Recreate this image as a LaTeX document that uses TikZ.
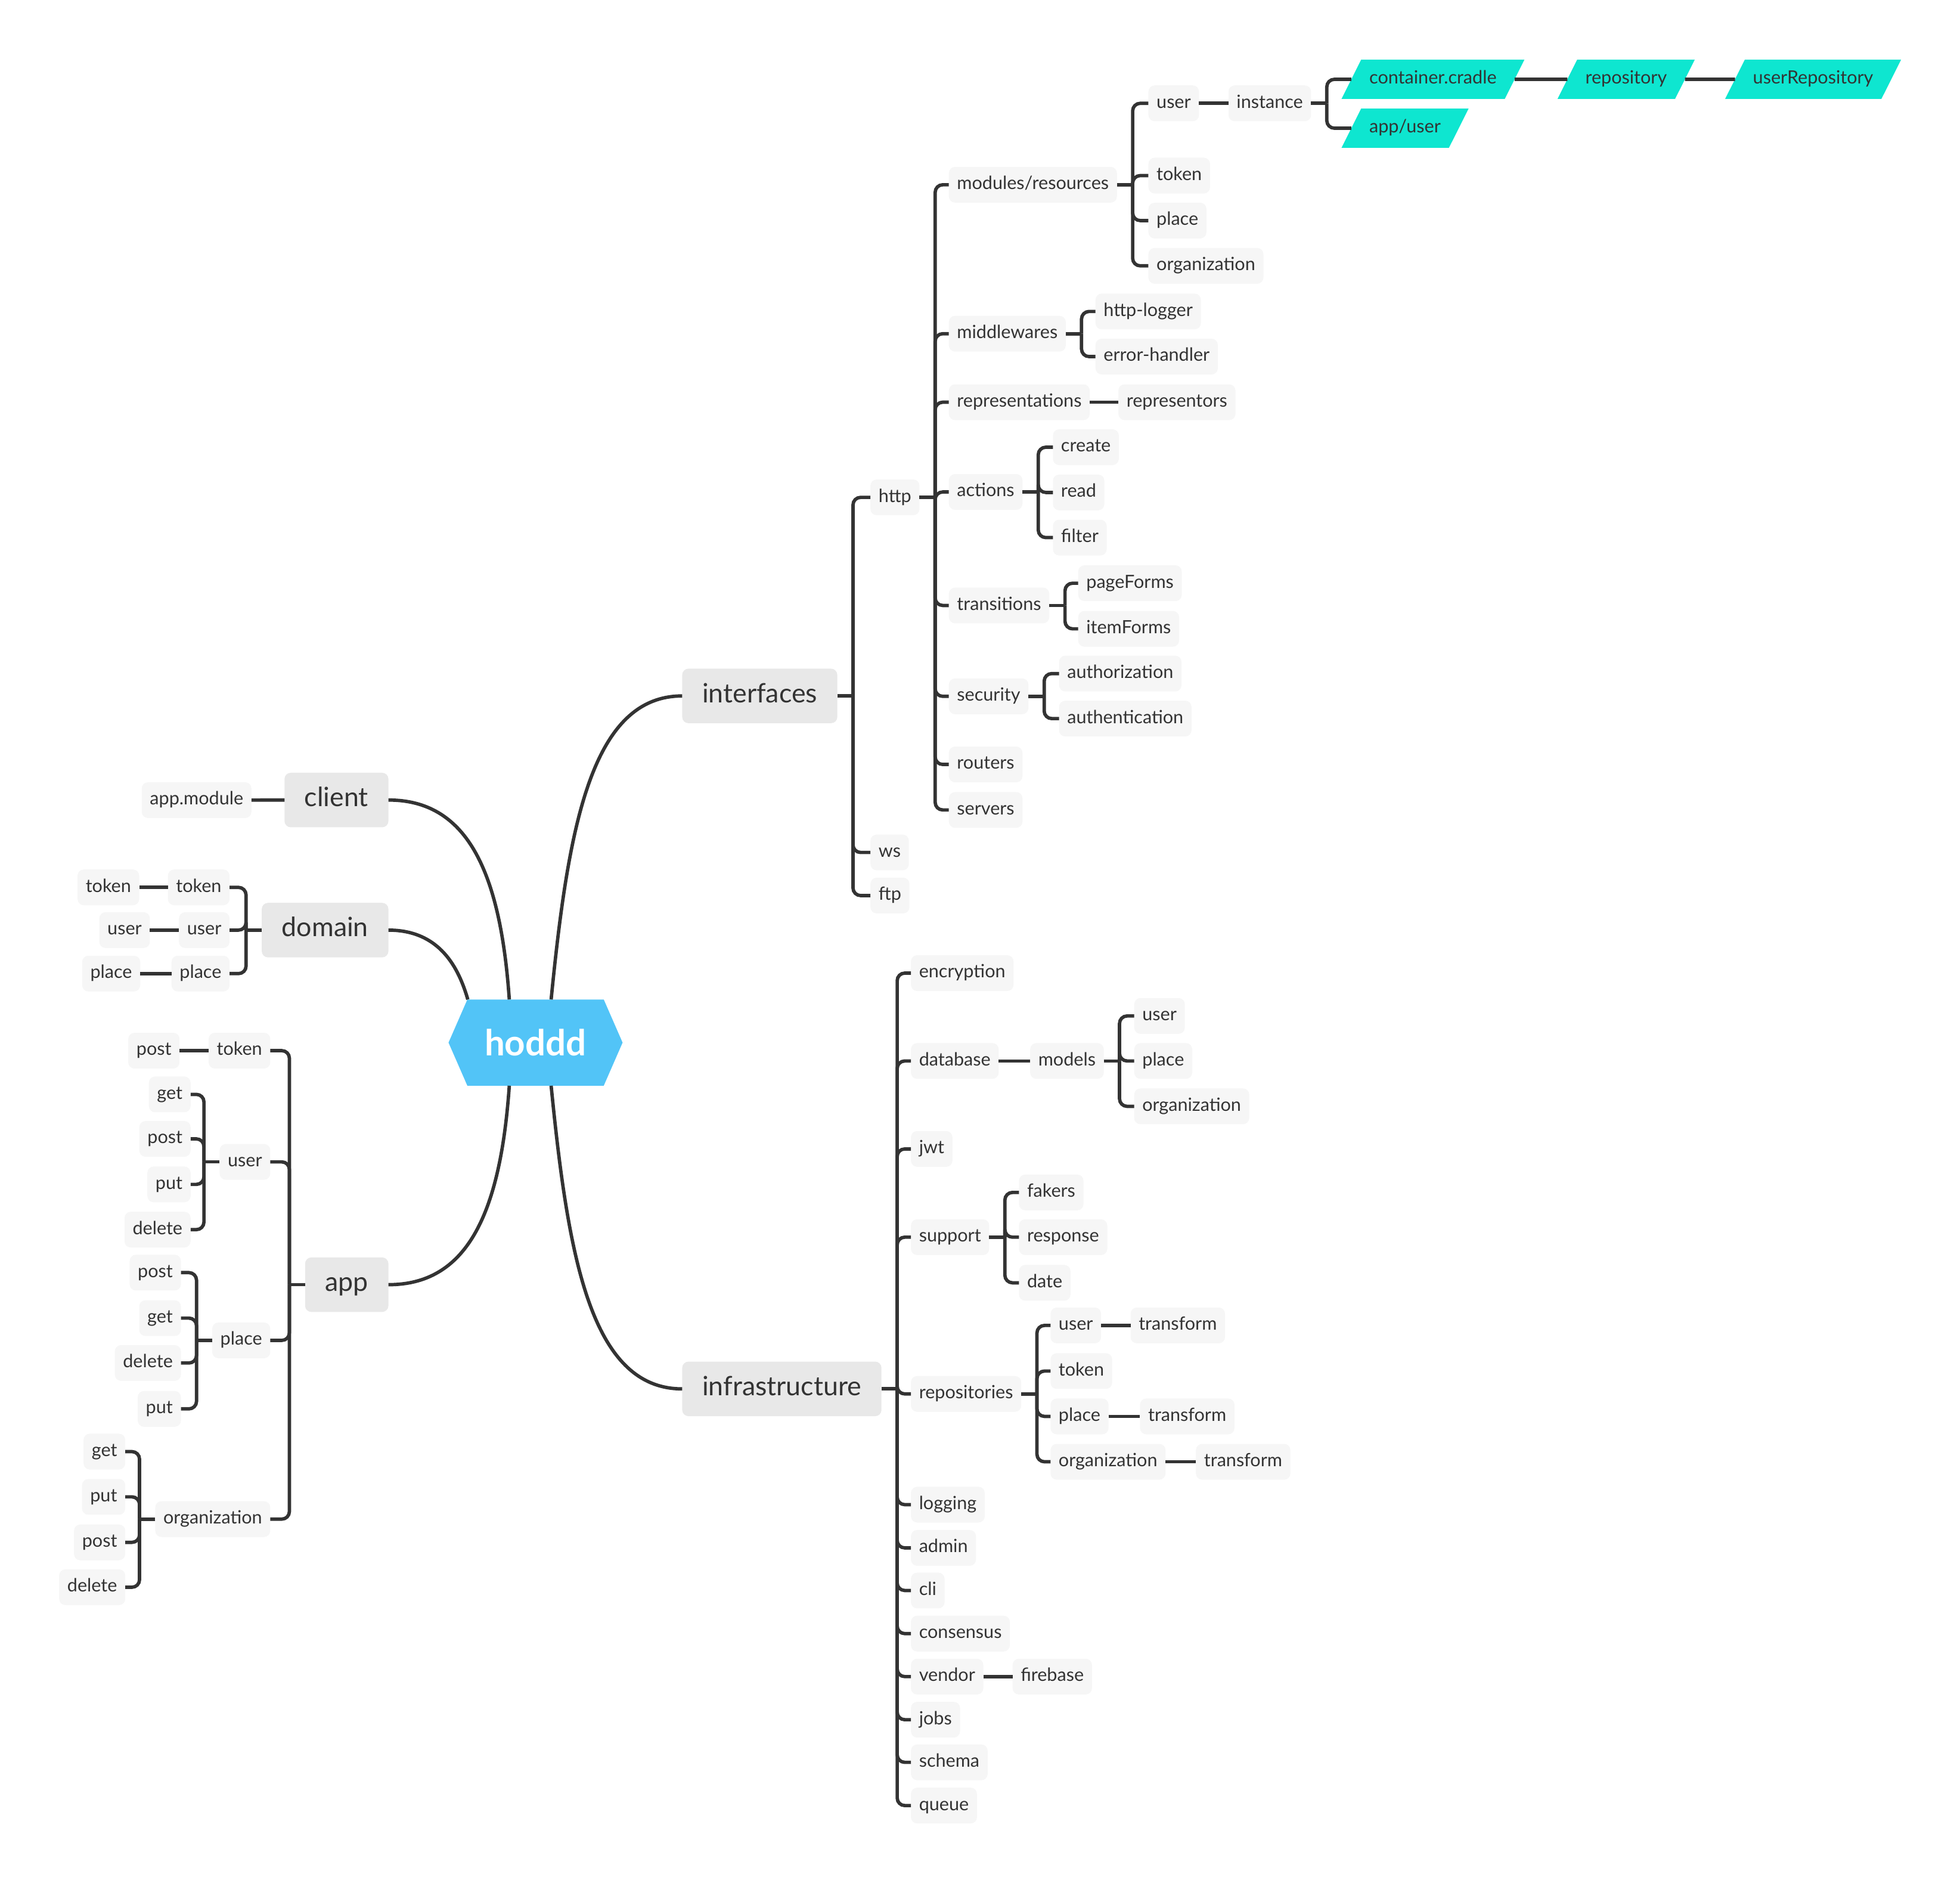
\documentclass[tikz,border=0pt]{standalone}
\usepackage{fontspec}
\setmainfont{Lato}
\usetikzlibrary{shapes.geometric,shapes.symbols}
\definecolor{ink}{HTML}{333333}
\definecolor{hubblue}{HTML}{52C4F7}
\definecolor{tagteal}{HTML}{0EE6D0}
\definecolor{topicgray}{HTML}{E8E8E8}
\definecolor{leafgray}{HTML}{F6F6F6}
\def\rfork(#1)#2{\draw[link] (#1.east) -- ++(12.5,0); \foreach \c in {#2} \draw[link] (#1.east) ++(12.5,0) |- (\c.west);}
\def\lfork(#1)#2{\draw[link] (#1.west) -- ++(-12.5,0); \foreach \c in {#2} \draw[link] (#1.west) ++(-12.5,0) |- (\c.east);}
\tikzset{
	link/.style={draw=ink, line width=2.7pt, rounded corners=6pt},
	hub/.style={signal, signal to=west and east, signal pointer angle=132.8, fill=hubblue, text=white, font=\bfseries\fontsize{28.5}{30}\selectfont, minimum width=138.5pt, minimum height=68.6pt, inner sep=0pt, outer sep=0pt},
	topic/.style={fill=topicgray, text=ink, rounded corners=5pt, font=\fontsize{21.2}{24}\selectfont, inner xsep=16pt, inner ysep=0pt, minimum height=43.4pt, text height=15pt, text depth=4.5pt, outer sep=0pt},
	leaf/.style={fill=leafgray, text=ink, rounded corners=5pt, font=\fontsize{14.5}{17}\selectfont, inner xsep=6.5pt, inner ysep=0pt, minimum height=28.5pt, text height=10.5pt, text depth=3pt, outer sep=0pt},
	tag/.style={trapezium, trapezium left angle=63.4, trapezium right angle=116.6, fill=tagteal, text=ink, font=\fontsize{14.5}{17}\selectfont, inner xsep=6.5pt, inner ysep=8.9pt, text height=10.5pt, text depth=3pt, outer sep=0pt},
}
\begin{document}
\begin{tikzpicture}[x=1pt, y=-1pt]
		%%%%% START %%%%%
		\useasboundingbox (0,0) rectangle (1559.8,1498.1);
		
		\node[hub] (hoddd) at (426.2, 829.5) {hoddd};
		
		\node[topic, anchor=west] (interfaces) at (542.9, 553.7) {interfaces};
		\node[topic, anchor=west] (infra) at (542.9, 1105) {infrastructure};
		\node[topic, anchor=east] (client) at (309.1, 636.5) {client};
		\node[topic, anchor=east] (domain) at (309.1, 740) {domain};
		\node[topic, anchor=east] (app) at (309.1, 1022.1) {app};
		
		% interfaces
		\node[leaf, anchor=west] (http) at (692.7, 395.7) {http};
		\node[leaf, anchor=west] (ws) at (692.7, 678.2) {ws};
		\node[leaf, anchor=west] (ftp) at (692.7, 712.5) {ftp};
		
		\node[leaf, anchor=west] (mods) at (755.1, 147) {modules/resources};
		\node[leaf, anchor=west] (mw) at (755.1, 265.5) {middlewares};
		\node[leaf, anchor=west] (reps) at (755.1, 320) {representations};
		\node[leaf, anchor=west] (acts) at (755.1, 391.4) {actions};
		\node[leaf, anchor=west] (trans) at (755.1, 481.7) {transitions};
		\node[leaf, anchor=west] (sec) at (755.1, 554) {security};
		\node[leaf, anchor=west] (routers) at (755.1, 608.2) {routers};
		\node[leaf, anchor=west] (servers) at (755.1, 644.4) {servers};
		
		\node[leaf, anchor=west] (muser) at (913.9, 82.2) {user};
		\node[leaf, anchor=west] (mtoken) at (913.9, 139.7) {token};
		\node[leaf, anchor=west] (mplace) at (913.9, 175.5) {place};
		\node[leaf, anchor=west] (morg) at (913.9, 211.5) {organization};
		\node[leaf, anchor=west] (inst) at (977.6, 82.2) {instance};
		
		\node[tag, anchor=west] (cradle) at (1075.4, 63.1) {container.cradle};
		\node[tag, anchor=west] (appuserdir) at (1075.4, 102) {app/user};
		\node[tag, anchor=west] (repo) at (1247.3, 63.1) {repository};
		\node[tag, anchor=west] (userrepo) at (1380.7, 63.1) {userRepository};
		
		\node[leaf, anchor=west] (hlog) at (871.8, 247.8) {http-logger};
		\node[leaf, anchor=west] (ehand) at (871.8, 283.7) {error-handler};
		\node[leaf, anchor=west] (repr) at (890, 320) {representors};
		\node[leaf, anchor=west] (create) at (837.9, 355.8) {create};
		\node[leaf, anchor=west] (read) at (837.9, 391.8) {read};
		\node[leaf, anchor=west] (filter) at (837.9, 427.7) {filter};
		\node[leaf, anchor=west] (pforms) at (858, 464) {pageForms};
		\node[leaf, anchor=west] (iforms) at (858, 500.3) {itemForms};
		\node[leaf, anchor=west] (authz) at (842.8, 535.9) {authorization};
		\node[leaf, anchor=west] (authn) at (842.8, 571.7) {authentication};
		
		% infrastructure
		\node[leaf, anchor=west] (encr) at (724.9, 774.2) {encryption};
		\node[leaf, anchor=west] (db) at (724.9, 844.1) {database};
		\node[leaf, anchor=west] (jwt) at (724.9, 914.1) {jwt};
		\node[leaf, anchor=west] (support) at (724.9, 984.3) {support};
		\node[leaf, anchor=west] (repos) at (724.9, 1109) {repositories};
		\node[leaf, anchor=west] (logging) at (724.9, 1197.1) {logging};
		\node[leaf, anchor=west] (admin) at (724.9, 1231.5) {admin};
		\node[leaf, anchor=west] (cli) at (724.9, 1265.4) {cli};
		\node[leaf, anchor=west] (consensus) at (724.9, 1299.7) {consensus};
		\node[leaf, anchor=west] (vendor) at (724.9, 1333.9) {vendor};
		\node[leaf, anchor=west] (jobs) at (724.9, 1368.2) {jobs};
		\node[leaf, anchor=west] (schema) at (724.9, 1402.1) {schema};
		\node[leaf, anchor=west] (queue) at (724.9, 1436.5) {queue};
		
		\node[leaf, anchor=west] (models) at (819.8, 844.1) {models};
		\node[leaf, anchor=west] (mdluser) at (902.6, 808.3) {user};
		\node[leaf, anchor=west] (mdlplace) at (902.6, 844.1) {place};
		\node[leaf, anchor=west] (mdlorg) at (902.6, 880.2) {organization};
		\node[leaf, anchor=west] (fakers) at (810.9, 948.7) {fakers};
		\node[leaf, anchor=west] (resp) at (810.9, 984.3) {response};
		\node[leaf, anchor=west] (date) at (810.9, 1020.6) {date};
		\node[leaf, anchor=west] (ruser) at (836, 1054.5) {user};
		\node[leaf, anchor=west] (rtoken) at (836, 1090.8) {token};
		\node[leaf, anchor=west] (rplace) at (836, 1126.9) {place};
		\node[leaf, anchor=west] (rorg) at (836, 1163) {organization};
		\node[leaf, anchor=west] (tuser) at (899.7, 1054.5) {transform};
		\node[leaf, anchor=west] (tplace) at (907.2, 1126.9) {transform};
		\node[leaf, anchor=west] (torg) at (951.7, 1163) {transform};
		\node[leaf, anchor=west] (firebase) at (805.8, 1333.9) {firebase};
		
		% client, domain
		\node[leaf, anchor=east] (appmod) at (200.1, 636.6) {app.module};
		\node[leaf, anchor=east] (domtoken) at (182.7, 706) {token};
		\node[leaf, anchor=east] (domuser) at (182.7, 740) {user};
		\node[leaf, anchor=east] (domplace) at (182.7, 774.6) {place};
		\node[leaf, anchor=east] (ltoken) at (110.8, 706) {token};
		\node[leaf, anchor=east] (luser) at (119.3, 740) {user};
		\node[leaf, anchor=east] (lplace) at (111.6, 774.6) {place};
		
		% app
		\node[leaf, anchor=east] (atoken) at (215.1, 835.9) {token};
		\node[leaf, anchor=east] (auser) at (215.1, 924.4) {user};
		\node[leaf, anchor=east] (aplace) at (215.1, 1066.4) {place};
		\node[leaf, anchor=east] (aorg) at (215.1, 1208.6) {organization};
		\node[leaf, anchor=east] (atpost) at (142.9, 835.9) {post};
		\node[leaf, anchor=east] (auget) at (151.7, 870.7) {get};
		\node[leaf, anchor=east] (aupost) at (151.7, 906.1) {post};
		\node[leaf, anchor=east] (auput) at (151.7, 942.3) {put};
		\node[leaf, anchor=east] (audelete) at (151.7, 978.3) {delete};
		\node[leaf, anchor=east] (appost) at (144, 1012.5) {post};
		\node[leaf, anchor=east] (apget) at (144, 1048.7) {get};
		\node[leaf, anchor=east] (apdelete) at (144, 1084.4) {delete};
		\node[leaf, anchor=east] (apput) at (144, 1120.9) {put};
		\node[leaf, anchor=east] (aoget) at (99.7, 1154.9) {get};
		\node[leaf, anchor=east] (aoput) at (99.7, 1190.9) {put};
		\node[leaf, anchor=east] (aopost) at (99.7, 1227.1) {post};
		\node[leaf, anchor=east] (aodelete) at (99.7, 1262.8) {delete};
		
		% main branches
		\draw[link] ([xshift=12.4pt]hoddd.north) .. controls +(13.4,-135.2) and +(-72.9,0) .. (interfaces.west);
		\draw[link] ([xshift=12.4pt]hoddd.south) .. controls +(13.4,135.2) and +(-72.9,0) .. (infra.west);
		\draw[link] ([xshift=-20.9pt]hoddd.north) .. controls +(-7.3,-105.2) and +(60.9,0) .. (client.east);
		\draw[link] ([xshift=-53.9pt]hoddd.north) .. controls +(-7.3,-25.2) and +(40.9,0) .. (domain.east);
		\draw[link] ([xshift=-20.9pt]hoddd.south) .. controls +(-7.3,105.2) and +(60.9,0) .. (app.east);
		
		% forks
		\rfork(interfaces){http,ws,ftp}
		\rfork(http){mods,mw,reps,acts,trans,sec,routers,servers}
		\rfork(mods){muser,mtoken,mplace,morg}
		\rfork(inst){cradle,appuserdir}
		\rfork(mw){hlog,ehand}
		\rfork(acts){create,read,filter}
		\rfork(trans){pforms,iforms}
		\rfork(sec){authz,authn}
		\rfork(infra){encr,db,jwt,support,repos,logging,admin,cli,consensus,vendor,jobs,schema,queue}
		\rfork(models){mdluser,mdlplace,mdlorg}
		\rfork(support){fakers,resp,date}
		\rfork(repos){ruser,rtoken,rplace,rorg}
		\lfork(domain){domtoken,domuser,domplace}
		\lfork(app){atoken,auser,aplace,aorg}
		\lfork(auser){auget,aupost,auput,audelete}
		\lfork(aplace){appost,apget,apdelete,apput}
		\lfork(aorg){aoget,aoput,aopost,aodelete}
		
		% single links
		\draw[link] (muser) -- (inst);
		\draw[link] (cradle) -- (repo);
		\draw[link] (repo) -- (userrepo);
		\draw[link] (reps) -- (repr);
		\draw[link] (db) -- (models);
		\draw[link] (ruser) -- (tuser);
		\draw[link] (rplace) -- (tplace);
		\draw[link] (rorg) -- (torg);
		\draw[link] (vendor) -- (firebase);
		\draw[link] (appmod) -- (client);
		\draw[link] (ltoken) -- (domtoken);
		\draw[link] (luser) -- (domuser);
		\draw[link] (lplace) -- (domplace);
		\draw[link] (atpost) -- (atoken);
		%%%%% END %%%%%
	\end{tikzpicture}
\end{document}
